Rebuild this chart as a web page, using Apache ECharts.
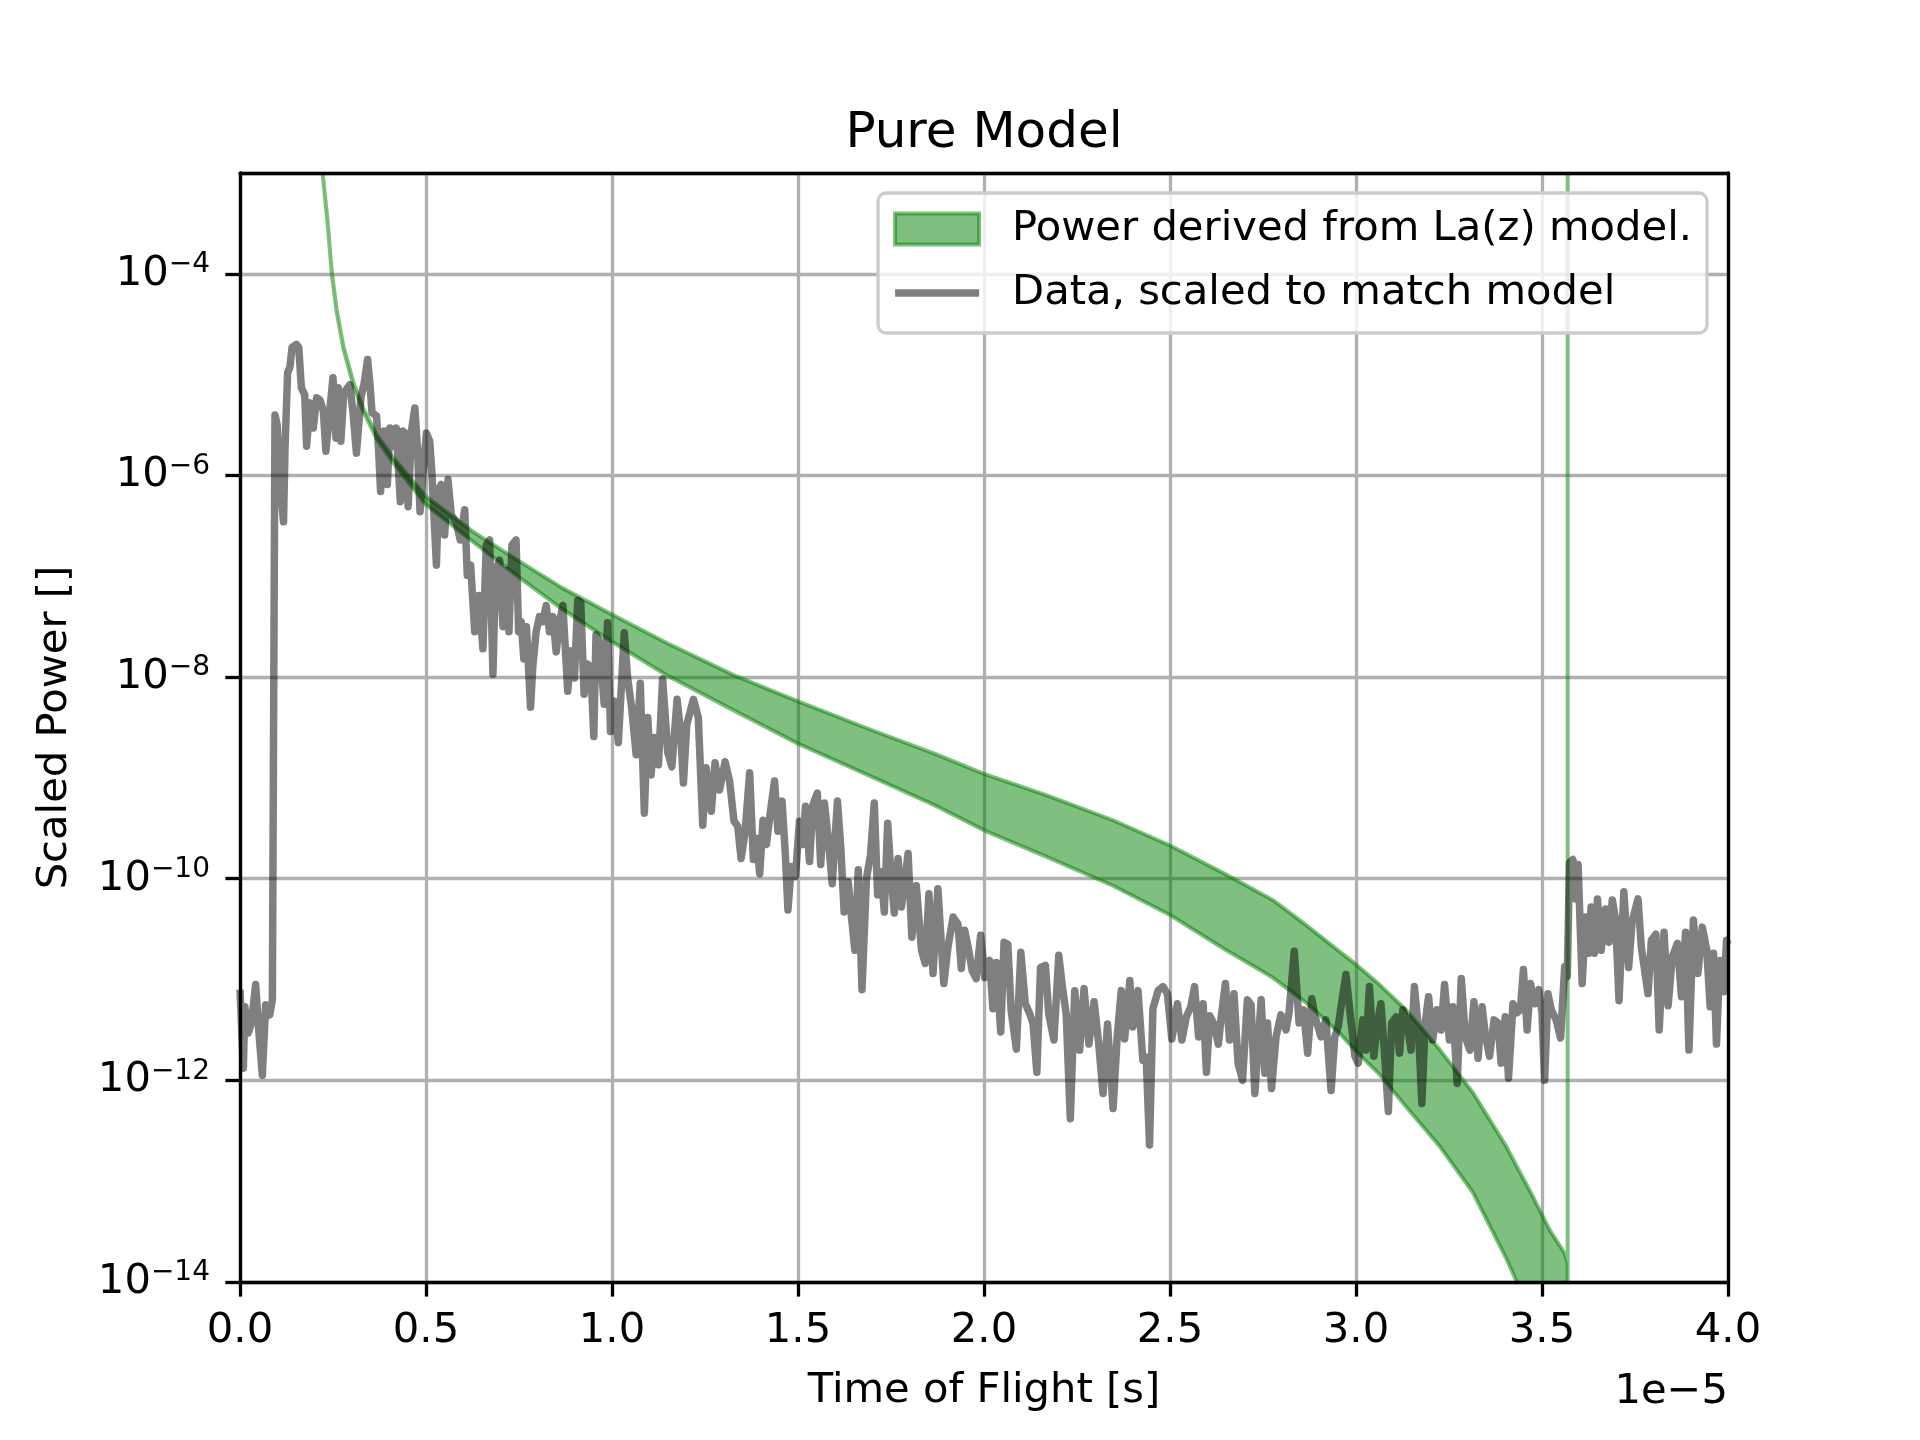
<!DOCTYPE html>
<html>
<head>
<meta charset="utf-8">
<script src="https://cdn.jsdelivr.net/npm/echarts@6/dist/echarts.min.js"></script>
<style>
html, body { margin: 0; padding: 0; background: #fff; }
#chart { width: 1920px; height: 1440px; }
</style>
</head>
<body>
<div id="chart"></div>
<script>
// time of flight in units of 1e-5 s, power as log10 value
var dataTime = [
0.000,0.009,0.013,0.022,0.031,0.042,0.051,0.060,0.069,0.080, 0.087,0.090,0.094,0.100,0.106,0.117,0.121,0.128,0.134,0.140,
0.152,0.158,0.165,0.174,0.179,0.188,0.197,0.206,0.215,0.224, 0.231,0.242,0.250,0.258,0.264,0.271,0.279,0.295,0.304,0.313,
0.325,0.334,0.343,0.349,0.355,0.367,0.373,0.378,0.387,0.396, 0.403,0.411,0.420,0.431,0.438,0.445,0.452,0.461,0.470,0.477,
0.484,0.492,0.501,0.510,0.516,0.528,0.534,0.541,0.550,0.559, 0.568,0.581,0.592,0.604,0.611,0.620,0.631,0.642,0.653,0.662,
0.671,0.680,0.687,0.698,0.707,0.716,0.723,0.731,0.742,0.749, 0.756,0.763,0.770,0.781,0.787,0.796,0.805,0.814,0.823,0.832,
0.841,0.850,0.859,0.868,
0.881,0.890,0.899,0.908,0.916,0.925,0.934,0.943,0.951,0.957, 0.966,0.979,0.988,0.996,1.006,1.017,1.033,1.042,1.053,1.065,
1.076,1.087,1.096,1.105,1.114,1.125,1.136,1.150,1.161,1.175, 1.185,1.192,1.201,1.219,1.232,1.244,1.253,1.267,1.277,1.289,
1.304,1.316,1.328,1.338,1.347,1.358,1.370,1.380,1.388,1.397, 1.406,1.415,1.426,1.437,1.446,1.457,1.466,1.473,1.482,1.493,
1.504,1.513,1.520,1.531,1.540,1.552,1.561,1.571,1.582,1.592, 1.606,1.615,1.624,1.635,1.644,1.653,1.662,1.672,1.684,1.695,
1.705,1.714,1.723,1.732,1.741,1.750,1.759,1.769,1.778,
1.796,1.806,1.818,1.832,1.842,1.852,1.863,1.876,1.892,1.903, 1.917,1.930,1.939,1.948,1.959,1.968,1.979,1.991,2.002,2.015,
2.024,2.033,2.045,2.054,2.064,2.073,2.087,2.099,2.111,2.123, 2.132,2.142,2.152,2.165,2.174,2.188,2.201,2.212,2.221,2.232,
2.244,2.257,2.269,2.282,2.296,2.308,2.320,2.332,2.347,2.358, 2.369,2.378,2.392,2.400,2.414,2.427,2.436,2.445,2.454,2.468,
2.481,2.493,2.505,2.520,2.532,2.544,2.556,2.566,2.577,2.589, 2.598,2.607,2.618,2.630,2.638,2.649,2.660,2.672,2.683,2.695,
2.708,2.718,2.728,2.745,2.755,2.762,2.773,2.785,2.798,2.812, 2.820,2.834,2.847,2.859,2.870,2.881,2.890,2.906,2.919,2.933,
2.943,2.952,2.961,2.973,2.987,2.997,3.006,3.018,3.027,3.036, 3.048,3.058,3.067,3.076,3.087,3.096,3.108,3.117,3.126,3.137,
3.148,3.157,3.168,3.177,3.186,3.195,3.206,3.218,3.229,3.238, 3.251,3.260,3.272,3.283,3.294,3.306,3.317,3.328,3.339,3.347,
3.359,3.371,3.382,3.390,3.401,3.410,3.422,3.433,3.442,3.450, 3.460,3.469,3.481,3.491,3.500,3.507,3.516,3.525,3.538,3.550,
3.561,3.568,3.574,3.583,3.590,3.597,3.608,3.617,3.626,3.632, 3.641,3.649,3.659,3.671,3.680,3.689,3.698,3.707,3.720,3.733,
3.742,3.758,3.767,3.785,3.794,3.806,3.815,3.828,3.839,3.850, 3.864,3.875,3.886,3.895,3.907,3.919,3.931,3.943,3.952,3.961,
3.969,3.978,3.989,3.996,4.000
];
var dataLogPower = [
-11.10,-11.88,-11.27,-11.53,-11.43,-11.05,-11.53,-11.95,-11.25,-11.35, -11.20,-11.20,-5.40,-5.50,-6.00,-6.46,-5.73,-4.98,-4.93,-4.73,
-4.70,-4.73,-5.13,-5.20,-5.71,-5.28,-5.53,-5.23,-5.25,-5.36, -5.76,-5.33,-5.03,-5.63,-5.13,-5.66,-5.18,-5.10,-5.38,-5.78,
-5.23,-5.08,-4.85,-5.08,-5.38,-5.41,-5.78,-6.16,-5.56,-6.09, -5.53,-5.71,-5.53,-6.26,-5.56,-5.58,-6.31,-5.56,-5.33,-5.73,
-6.36,-5.98,-5.58,-5.66,-5.98,-6.89,-6.14,-6.09,-6.59,-6.04, -6.39,-6.46,-6.64,-6.34,-6.99,-6.89,-7.55,-7.19,-7.72,-6.69,
-6.64,-7.97,-6.94,-6.84,-7.50,-6.94,-7.55,-6.69,-6.64,-7.55, -7.45,-7.82,-7.50,-8.30,-7.90,-7.55,-7.40,-7.45,-7.29,-7.55,
-7.40,-7.75,-7.45,-7.29,
-8.14,-7.74,-8.01,-7.24,-7.26,-8.17,-7.87,-7.90,-8.59,-7.58, -7.64,-8.27,-7.46,-8.54,-8.24,-8.65,-7.56,-8.01,-8.31,-8.77,
-8.06,-9.35,-8.40,-8.97,-8.60,-8.87,-8.02,-8.75,-8.89,-8.22, -8.57,-9.05,-8.47,-8.22,-8.40,-9.47,-8.90,-9.33,-8.85,-9.12,
-8.84,-9.03,-9.43,-9.48,-9.80,-9.53,-8.95,-9.81,-9.60,-9.95, -9.42,-9.66,-9.33,-9.03,-9.53,-9.23,-9.76,-10.31,-9.88,-9.98,
-9.43,-9.66,-9.28,-9.83,-9.27,-9.15,-9.86,-9.25,-9.63,-10.05, -9.23,-9.69,-10.33,-10.03,-10.39,-10.71,-9.91,-11.10,-10.00,-9.76,
-9.25,-10.16,-9.93,-10.33,-9.45,-9.96,-10.34,-9.80,-10.28,
-9.75,-10.58,-10.07,-10.71,-10.84,-10.15,-10.94,-10.10,-11.04,-10.68, -10.38,-10.45,-10.89,-10.51,-10.71,-10.91,-10.99,-10.56,-10.98,-10.81,
-11.29,-10.83,-11.52,-10.63,-10.65,-11.31,-11.69,-10.73,-11.24,-11.34, -11.44,-11.92,-10.88,-10.86,-11.34,-11.60,-10.76,-11.11,-11.34,-12.38,
-11.11,-11.70,-11.09,-11.64,-11.22,-11.62,-12.13,-11.44,-12.28,-11.57, -11.11,-11.59,-11.01,-11.47,-11.11,-11.80,-11.77,-12.64,-11.29,-11.11,
-11.07,-11.14,-11.59,-11.24,-11.60,-11.37,-11.27,-11.07,-11.57,-11.24, -11.92,-11.36,-11.44,-11.64,-11.36,-11.04,-11.60,-11.14,-11.83,-12.00,
-11.20,-11.25,-12.13,-11.20,-11.93,-11.43,-12.08,-11.57,-11.35,-11.50, -11.33,-10.72,-11.43,-11.30,-11.73,-11.19,-11.37,-11.57,-11.40,-12.10,
-11.57,-11.47,-11.24,-10.95,-11.43,-11.76,-11.83,-11.40,-11.70,-11.07, -11.76,-11.43,-11.24,-11.70,-12.31,-11.43,-11.37,-11.73,-11.30,-11.43,
-11.70,-11.07,-11.50,-12.23,-11.43,-11.17,-11.60,-11.30,-11.50,-11.05, -11.60,-11.27,-12.03,-10.99,-11.57,-11.70,-11.22,-11.78,-11.27,-11.53,
-11.76,-11.40,-11.43,-11.83,-11.37,-11.98,-11.24,-11.33,-11.30,-10.90, -11.50,-11.04,-11.24,-11.10,-11.33,-12.00,-11.14,-11.30,-11.40,-11.58,
-10.87,-10.97,-9.84,-9.81,-10.20,-9.86,-11.04,-10.38,-10.74,-10.28, -10.74,-10.20,-10.71,-10.30,-10.63,-10.21,-10.41,-11.21,-10.13,-10.88,
-10.43,-10.20,-10.68,-11.14,-10.61,-10.55,-11.50,-10.53,-11.26,-10.78, -10.64,-11.17,-10.53,-11.70,-10.41,-10.94,-10.48,-10.71,-11.27,-10.74,
-11.64,-10.81,-11.12,-10.61,-10.65
];

// model band (log10 power), upper and lower edge
var bandTime  = [0.212,0.222,0.235,0.247,0.260,0.278,0.305,0.332,0.368,0.413, 0.500,0.627,0.750,0.868,1.000,1.146,1.327,1.500,1.687,1.867,
                 2.000,2.167,2.347,2.500,2.647,2.776,2.866,2.955,3.000,3.063, 3.134,3.224,3.314,3.403,3.475,3.520,3.560,3.569,3.569];
var bandUpper = [-2.50,-2.99,-3.46,-3.99,-4.36,-4.72,-5.08,-5.34,-5.60,-5.83, -6.21,-6.56,-6.85,-7.12,-7.38,-7.66,-7.98,-8.24,-8.51,-8.76,
                 -8.96,-9.17,-9.42,-9.67,-9.95,-10.21,-10.46,-10.72,-10.85,-11.05, -11.30,-11.69,-12.12,-12.65,-13.15,-13.48,-13.71,-13.81,0.00];
var bandLower = [-2.52,-3.01,-3.48,-4.01,-4.38,-4.74,-5.11,-5.37,-5.64,-5.88, -6.29,-6.66,-7.01,-7.33,-7.65,-7.98,-8.33,-8.66,-8.97,-9.27,
                 -9.52,-9.78,-10.07,-10.36,-10.70,-10.98,-11.23,-11.53,-11.71,-11.94, -12.26,-12.65,-13.11,-13.76,-14.35,-14.70,-15.05,-15.10,-15.10];

var yTicks = [-14, -12, -10, -8, -6, -4];

var FONT = 'DejaVu Sans';
var bandName = 'Power derived from La(z) model.';
var dataName = 'Data, scaled to match model';
var GREEN = 'rgba(0,128,0,0.5)';

var myChart = echarts.init(document.getElementById('chart'));

var dataPts = [];
for (var i = 0; i < dataTime.length; i++) {
    dataPts.push([dataTime[i], dataLogPower[i]]);
}
var upPts = [];
var lowPts = [];
for (var i = 0; i < bandTime.length; i++) {
    upPts.push([bandTime[i], bandUpper[i]]);
    lowPts.push([bandTime[i], bandLower[i]]);
}

// fill between upper and lower edge as one outlined polygon (like fill_between)
function renderBand(params, api) {
    var pts = [];
    for (var i = 0; i < upPts.length; i++) pts.push(api.coord(upPts[i]));
    for (var j = lowPts.length - 1; j >= 0; j--) pts.push(api.coord(lowPts[j]));
    var cs = params.coordSys;
    return {
        type: 'polygon',
        shape: { points: pts },
        style: { fill: GREEN, stroke: GREEN, lineWidth: 4, lineJoin: 'round' },
        clipPath: { type: 'rect', shape: { x: cs.x, y: cs.y, width: cs.width, height: cs.height } }
    };
}

var frameLine = { show: true, onZero: false, lineStyle: { color: '#000', width: 3.3 } };

var option = {
    animation: false,
    backgroundColor: '#fff',
    title: {
        text: 'Pure Model',
        left: 979,
        top: 104,
        textAlign: 'center',
        textStyle: { fontFamily: FONT, fontSize: 50, fontWeight: 'normal', color: '#000' }
    },
    grid: { left: 240, top: 173, width: 1488, height: 1109 },
    legend: {
        right: 213,
        top: 193,
        orient: 'vertical',
        align: 'left',
        selectedMode: false,
        padding: [12, 15, 16, 15],
        itemGap: 16,
        itemWidth: 84,
        itemHeight: 31,
        backgroundColor: 'rgba(255,255,255,0.8)',
        borderColor: '#cccccc',
        borderWidth: 3.3,
        borderRadius: 8,
        textStyle: { fontFamily: FONT, fontSize: 41.7, color: '#000', lineHeight: 48, padding: [0, 0, 0, 28] },
        data: [
            { name: bandName, icon: 'rect',
              itemStyle: { color: GREEN, borderColor: GREEN, borderWidth: 4 } },
            { name: dataName, icon: 'path://M0,0H90V8H0Z',
              itemStyle: { color: 'rgba(0,0,0,0.5)', borderWidth: 0 } }
        ]
    },
    xAxis: [
        {
            type: 'value', min: 0, max: 4, interval: 0.5, position: 'bottom', z: 5,
            name: 'Time of Flight [s]', nameLocation: 'middle', nameGap: 88,
            nameTextStyle: { fontFamily: FONT, fontSize: 41.7, color: '#000' },
            axisLine: frameLine,
            axisTick: { show: true, length: 14.6, lineStyle: { color: '#000', width: 3.3 } },
            axisLabel: {
                margin: 28, fontFamily: FONT, fontSize: 41.7, color: '#000',
                formatter: function (v) { return v.toFixed(1); }
            },
            splitLine: { show: false }
        },
        {
            type: 'value', min: 0, max: 4, position: 'top', z: 5,
            axisLine: frameLine, axisTick: { show: false }, axisLabel: { show: false }, splitLine: { show: false }
        },
        {
            // grid lines only
            type: 'value', min: 0, max: 4, interval: 0.5, position: 'bottom', z: 0,
            axisLine: { show: false }, axisTick: { show: false }, axisLabel: { show: false },
            splitLine: { show: true, lineStyle: { color: '#b0b0b0', width: 3.3 } }
        }
    ],
    yAxis: [
        {
            type: 'value', min: -14, max: -3, interval: 2, position: 'left', z: 5,
            name: 'Scaled Power []', nameLocation: 'middle', nameGap: 164,
            nameTextStyle: { fontFamily: FONT, fontSize: 41.7, color: '#000' },
            axisLine: frameLine,
            axisTick: { show: true, length: 14.6, customValues: yTicks, lineStyle: { color: '#000', width: 3.3 } },
            axisLabel: {
                margin: 30, customValues: yTicks,
                formatter: function (v) {
                    if (yTicks.indexOf(v) < 0) return '';
                    return '{b|10}{s|\u2212' + Math.abs(v) + '}';
                },
                rich: {
                    b: { fontFamily: FONT, fontSize: 41.7, color: '#000', lineHeight: 42 },
                    s: { fontFamily: FONT, fontSize: 28, color: '#000', lineHeight: 27, padding: [0, 0, 18, 0] }
                }
            },
            splitLine: { show: false }
        },
        {
            type: 'value', min: -14, max: -3, position: 'right', z: 5,
            axisLine: frameLine, axisTick: { show: false }, axisLabel: { show: false }, splitLine: { show: false }
        },
        {
            type: 'value', min: -14, max: -3, interval: 2, position: 'left', z: 0,
            axisLine: { show: false }, axisTick: { show: false }, axisLabel: { show: false },
            splitLine: { show: true, lineStyle: { color: '#b0b0b0', width: 3.3 } }
        }
    ],
    graphic: [
        {
            type: 'text', right: 192, top: 1371,
            style: { text: '1e\u22125', font: '41.7px "DejaVu Sans"', fill: '#000' }
        }
    ],
    series: [
        {
            name: bandName,
            type: 'custom',
            renderItem: renderBand,
            data: [[2, -10]],
            silent: true,
            itemStyle: { color: GREEN },
            z: 2
        },
        {
            name: dataName,
            type: 'line',
            data: dataPts,
            symbol: 'none',
            silent: true,
            itemStyle: { color: 'rgba(0,0,0,0.5)' },
            lineStyle: { color: 'rgba(0,0,0,0.5)', width: 7.5, join: 'round', cap: 'butt' },
            z: 3
        }
    ]
};
myChart.setOption(option);
</script>
</body>
</html>
